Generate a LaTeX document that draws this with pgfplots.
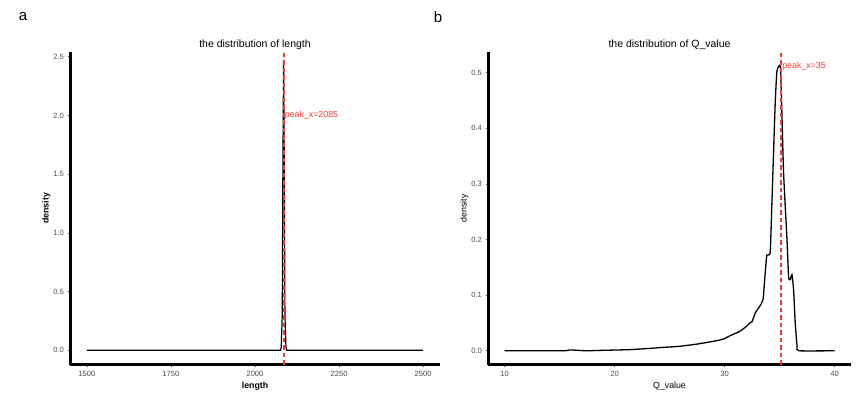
\documentclass[border=0pt]{standalone}
\usepackage{fontspec}
\setmainfont{Liberation Sans}
\usepackage{pgfplots}
\pgfplotsset{compat=1.18}
\definecolor{peakred}{HTML}{F23B32}
\definecolor{tickgrey}{HTML}{4D4D4D}
\pgfplotsset{
  myaxis/.style={
    scale only axis,
    anchor=south west,
    axis lines=left,
    axis line style={-, line width=3pt, black},
    tick style={tickgrey, line width=0.6pt},
    major tick length=2.5pt,
    tick align=outside,
    xtick pos=bottom, ytick pos=left,
    tick label style={font=\fontsize{7.6}{8}\selectfont, text=tickgrey},
    /pgf/number format/assume math mode=true,
    /pgf/number format/1000 sep={},
    clip=false,
    title style={font=\fontsize{10.5}{12}\selectfont, yshift=-7pt},
  },
}
\begin{document}
\begin{tikzpicture}
\path[use as bounding box] (0pt,0pt) rectangle (865pt,393pt);
\node[font=\fontsize{15}{16}\selectfont] at (23pt,376pt) {a};
\node[font=\fontsize{15}{16}\selectfont] at (438pt,376pt) {b};
% left panel
\begin{axis}[myaxis,
  at={(70pt,28pt)}, width=370pt, height=313pt,
  xmin=1450, xmax=2550, ymin=-0.125, ymax=2.54,
  xtick={1500,1750,2000,2250,2500},
  ytick={0,0.5,1,1.5,2,2.5},
  yticklabels={0.0,0.5,1.0,1.5,2.0,2.5},
  xlabel={length}, ylabel={density},
  xlabel style={font=\fontsize{8.8}{10}\selectfont\bfseries, yshift=1pt},
  ylabel style={font=\fontsize{8.8}{10}\selectfont\bfseries, yshift=-4pt},
  title={the distribution of length},
]
\addplot[black, line width=1.2pt, mark=none] coordinates {
(1500,0) (2076,0) (2078,0.03) (2081,0.3) (2083,1.6) (2085,2.47) (2087,1.6) (2089,0.3) (2092,0.03) (2094,0) (2500,0)};
\addplot[color=peakred, line width=2.2pt, dash pattern=on 4.5pt off 3pt, mark=none] coordinates {(2085.5,-0.125) (2085.5,2.54)};
\node[anchor=west, text=peakred, font=\fontsize{8.8}{10}\selectfont, inner sep=1pt] at (axis cs:2085.5,2.0) {peak\_x=2085};
\end{axis}
% right panel
\begin{axis}[myaxis,
  at={(488pt,28pt)}, width=363pt, height=313pt,
  xmin=8.5, xmax=41.5, ymin=-0.0256, ymax=0.537,
  xtick={10,20,30,40},
  ytick={0,0.1,0.2,0.3,0.4,0.5},
  yticklabels={0.0,0.1,0.2,0.3,0.4,0.5},
  xlabel={Q\_value}, ylabel={density},
  xlabel style={font=\fontsize{8.8}{10}\selectfont, yshift=1pt},
  ylabel style={font=\fontsize{8.8}{10}\selectfont, yshift=-4pt},
  title={the distribution of Q\_value},
]
\addplot[black, line width=1.3pt, smooth, tension=0.3, mark=none] coordinates {
(10,0) (15.3,0) (15.9,0.0015) (16.3,0.0012) (17.4,0) (19,0.0008) (21.4,0.002) (23,0.004) (24.4,0.006) (25.9,0.008) (27.5,0.012) (29.0,0.017) (29.9,0.021) (30.5,0.027) (31.4,0.035) (32.0,0.044) (32.3,0.05) (32.5,0.052) (32.8,0.068) (33.2,0.08) (33.5,0.092) (33.7,0.14) (33.85,0.172) (34.15,0.176) (34.3,0.26) (34.6,0.44) (34.77,0.503) (35.07,0.511) (35.2,0.44) (35.37,0.32) (35.68,0.2) (35.83,0.132) (35.98,0.128) (36.13,0.137) (36.28,0.11) (36.43,0.05) (36.6,0.008) (36.75,0) (40,0)};
\addplot[color=peakred, line width=1.5pt, dash pattern=on 4.5pt off 3pt, mark=none] coordinates {(35.15,-0.0256) (35.15,0.537)};
\node[anchor=west, text=peakred, font=\fontsize{8.8}{10}\selectfont, inner sep=1pt] at (axis cs:35.15,0.511) {peak\_x=35};
\end{axis}
\end{tikzpicture}
\end{document}
